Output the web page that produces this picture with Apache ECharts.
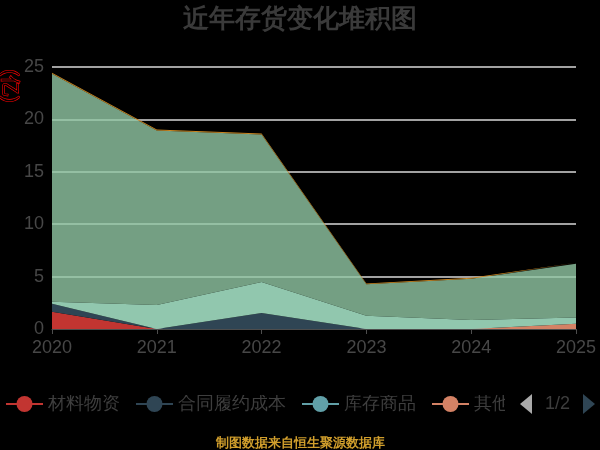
<!DOCTYPE html>
<html>
<head>
<meta charset="utf-8">
<title>近年存货变化堆积图</title>
<script src="https://cdn.jsdelivr.net/npm/echarts@6/dist/echarts.min.js"></script>
<style>
  html, body { margin: 0; padding: 0; background: #000; }
  #chart { width: 600px; height: 450px; }
</style>
</head>
<body>
<div id="chart"></div>
<script>
'use strict';

// years on the x axis
const years = ['2020', '2021', '2022', '2023', '2024', '2025'];

// stacked inventory parts, in 亿, bottom to top
const materials = [1.65, 0, 0, 0, 0, 0];        // 材料物资
const contractCost = [0.75, 0, 1.53, 0, 0, 0];  // 合同履约成本
const goodsInStock = [0, 0, 0, 0, 0, 0];        // 库存商品
const others = [0, 0, 0, 0, 0, 0.5];            // 其他
const rawMaterials = [0.2, 2.3, 2.95, 1.27, 0.86, 0.6];
const devCost = [21.76, 16.65, 14.09, 2.99, 3.94, 5.13];
const turnover = [0.08, 0.08, 0.08, 0.08, 0.08, 0.08];

const yTicks = [0, 5, 10, 15, 20, 25];

const seriesDefs = [
  { name: '材料物资', data: materials, color: '#c23531' },
  { name: '合同履约成本', data: contractCost, color: '#2f4554' },
  { name: '库存商品', data: goodsInStock, color: '#61a0a8' },
  { name: '其他', data: others, color: '#d48265' },
  { name: '原材料', data: rawMaterials, color: '#91c7ae' },
  { name: '开发成本', data: devCost, color: '#749f83', fill: '#91c7a4', opacity: 0.8 },
  { name: '周转材料', data: turnover, color: '#ca8622' },
];

const chart = echarts.init(document.getElementById('chart'));

chart.setOption({
  backgroundColor: '#000',
  animation: false,
  textStyle: { fontFamily: 'sans-serif' },
  title: [
    {
      text: '近年存货变化堆积图',
      left: 'center',
      top: 2,
      textStyle: { fontSize: 26, fontWeight: 'bold', color: '#3a3a3a' },
    },
    {
      text: '制图数据来自恒生聚源数据库',
      left: 'center',
      top: 432,
      textStyle: { fontSize: 13, fontWeight: 'bold', color: '#d09e2c' },
    },
  ],
  graphic: [
    {
      type: 'text',
      x: 10,
      y: 86,
      rotation: -Math.PI / 2,
      style: {
        text: '(亿)',
        fontSize: 20,
        fill: '#000',
        stroke: '#f00',
        lineWidth: 1.2,
        align: 'center',
        verticalAlign: 'middle',
      },
    },
  ],
  legend: {
    type: 'scroll',
    left: 0,
    right: 0,
    top: 389,
    itemWidth: 37,
    itemHeight: 20,
    itemGap: 15,
    textStyle: { fontSize: 18, color: '#3e3e3e' },
    lineStyle: { width: 2, opacity: 1 },
    pageIconSize: [12, 22],
    pageIconColor: '#2f4554',
    pageIconInactiveColor: '#aaa',
    pageTextStyle: { fontSize: 18, color: '#3e3e3e' },
    data: seriesDefs.map((s) => s.name),
  },
  grid: { left: 52, right: 24, top: 67, bottom: 121 },
  xAxis: {
    type: 'category',
    data: years,
    boundaryGap: false,
    axisLine: { lineStyle: { color: '#4d4d4d', width: 1 } },
    axisTick: { show: true, length: 5, lineStyle: { color: '#4d4d4d' } },
    axisLabel: { fontSize: 18, color: '#474747', margin: 10 },
  },
  yAxis: {
    type: 'value',
    min: yTicks[0],
    max: yTicks[yTicks.length - 1],
    interval: 5,
    axisLine: { show: false },
    axisTick: { show: false },
    axisLabel: { fontSize: 18, color: '#474747', margin: 8 },
    splitLine: { lineStyle: { color: '#d8d8d8', width: 1.5 } },
  },
  series: seriesDefs.map((s) => ({
    name: s.name,
    type: 'line',
    stack: 'total',
    data: s.data,
    symbol: 'circle',
    symbolSize: 6,
    showSymbol: false,
    color: s.color,
    lineStyle: { width: 0 },
    areaStyle: { color: s.fill || s.color, opacity: s.opacity || 1 },
  })),
});
</script>
</body>
</html>
